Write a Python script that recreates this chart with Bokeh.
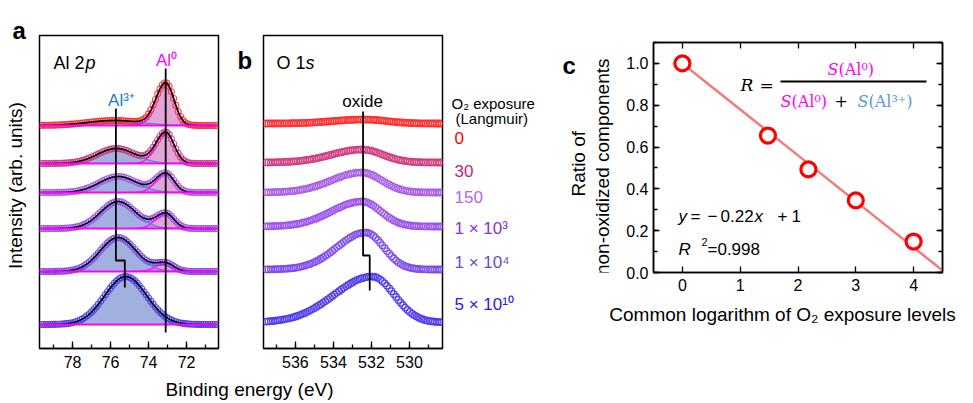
import numpy as np
from bokeh.plotting import figure
from bokeh.models import (Range1d, Label, SingleIntervalTicker, LinearAxis,
                          PrintfTickFormatter)
from bokeh.layouts import row, column
from bokeh.embed import file_html
from bokeh.resources import INLINE

# ---------------- data ----------------
exposure_labels = ["0", "30", "150", "1 × 10³", "1 × 10⁴", "5 × 10¹⁰"]
label_colors = ["#ff0000", "#d2206e", "#b466f2", "#8a2ed8", "#5a50dc", "#2222f0"]
data_colors = ["#ff2a2a", "#cf3a7d", "#a85ce6", "#9a50ee", "#7a48ee", "#4a36ee"]

# panel a: Al 2p fit components (arb. units, stacked)
al_offset = [223, 185, 156, 120, 77, 24]
al0_height = [42, 31, 19, 15, 8, 0]
al0_center = 73.1
al0_sigma_lo = 0.44
al0_sigma_hi = 0.52
al3_height = [5, 15, 16, 27, 34, 48]
al3_center = [75.8, 75.7, 75.6, 75.6, 75.6, 75.2]
al3_sigma = [1.4, 1.0, 1.0, 0.92, 0.95, 1.1]
al0_marker_be = [73.1, 73.1]
al0_marker_y = [280, 16]
al3_marker_be = [75.72, 75.72, 75.25, 75.25]
al3_marker_y = [240, 88, 88, 61]

# panel b: O 1s spectra
o_offset = [225, 186, 156, 122, 79, 26]
o_height = [4, 13, 20, 25, 37, 46]
o_center = [532.4, 532.5, 532.5, 532.5, 532.3, 531.95]
o_sigma_hi = [1.6, 1.6, 1.6, 1.6, 1.5, 2.0]
o_sigma_lo = [1.2, 1.1, 1.05, 1.0, 0.95, 1.15]
oxide_marker_be = [532.44, 532.44, 532.09, 532.09]
oxide_marker_y = [237, 93, 93, 58]

# panel c
log_exposure = [0.0, 1.48, 2.18, 3.0, 4.0]
ratio = [1.0, 0.655, 0.493, 0.345, 0.148]
fit_slope = -0.22
fit_intercept = 1.0
fit_x = [0.0, 4.55]

SANS = "Liberation Sans"
SERIF = "DejaVu Serif"


def asym_peak(x, c, h, s_lo, s_hi):
    s = np.where(x > c, s_hi, s_lo)
    return h * np.exp(-0.5 * ((x - c) / s) ** 2)


def lab(p, x, y, text, size, color="black", font=SANS, style="normal",
        align="left", baseline="alphabetic", angle=0.0):
    p.add_layout(Label(x=x, y=y, text=text, text_font=font,
                       text_font_size=f"{size}px", text_color=color,
                       text_font_style=style, text_align=align,
                       text_baseline=baseline, angle=angle))


def style_axis(ax, major=7, minor=4, size=16, standoff=7):
    ax.major_tick_in = major
    ax.major_tick_out = 0
    ax.minor_tick_in = minor
    ax.minor_tick_out = 0
    ax.axis_line_width = 1.5
    ax.major_tick_line_width = 1.3
    ax.minor_tick_line_width = 1.3
    ax.major_label_text_font = SANS
    ax.major_label_text_font_size = f"{size}px"
    ax.major_label_text_color = "black"
    ax.major_label_standoff = standoff


class Strip:
    """Text-only figure whose frame fills its canvas; placed at (left, top)."""

    def __init__(self, left, top, w, h):
        self.left, self.top, self.h = left, top, h
        self.p = figure(width=w, height=h, x_range=Range1d(0, w),
                        y_range=Range1d(0, h), output_backend="svg",
                        toolbar_location=None, title=None,
                        x_axis_type=None, y_axis_type=None, min_border=0)
        self.p.outline_line_color = None

    def text(self, px, py, text, size, **kw):
        lab(self.p, px - self.left, self.h - (py - self.top), text, size, **kw)


# ---------------- panel a ----------------
A_X0, A_X1 = 79.74, 70.32
pa = figure(width=193, height=375, x_range=Range1d(A_X0, A_X1),
            y_range=Range1d(0, 313), output_backend="svg",
            toolbar_location=None, title=None,
            min_border_left=8, min_border_right=6,
            min_border_top=35, min_border_bottom=27)
pa.yaxis.visible = False
pa.grid.visible = False
pa.outline_line_color = "black"
pa.outline_line_width = 1.5
pa.xaxis.ticker = SingleIntervalTicker(interval=2, num_minor_ticks=2)
style_axis(pa.xaxis[0])


def ax_(px):
    return A_X0 - (px - 39) / 19.0


def ay_(py):
    return 348 - py


xa = np.linspace(A_X1, A_X0, 500)
xa_pts = np.arange(70.40, 79.70, 0.12)
for i in range(6):
    off = al_offset[i]
    c3 = asym_peak(xa, al3_center[i], al3_height[i], al3_sigma[i], al3_sigma[i])
    c0 = asym_peak(xa, al0_center, al0_height[i], al0_sigma_lo, al0_sigma_hi)
    pa.varea(x=xa, y1=off, y2=off + c3, fill_color="#8395d6", fill_alpha=0.75)
    if al0_height[i] > 0:
        pa.varea(x=xa, y1=off, y2=off + c0, fill_color="#d57fc6", fill_alpha=0.7)
    p3 = asym_peak(xa_pts, al3_center[i], al3_height[i], al3_sigma[i], al3_sigma[i])
    p0 = asym_peak(xa_pts, al0_center, al0_height[i], al0_sigma_lo, al0_sigma_hi)
    pa.scatter(xa_pts, off + p3 + p0, marker="circle", size=6, fill_color=None,
               line_color=data_colors[i], line_width=1.1, line_alpha=0.85)
    pa.line(xa, off + c3, line_color="#3a8ee0", line_width=1.2)
    if al0_height[i] > 0:
        pa.line(xa, off + c0, line_color="#ff00ff", line_width=1.2)
    pa.line(xa, off + c3 + c0, line_color="black", line_width=1.6)
    pa.line([A_X1, A_X0], [off, off], line_color="#ff00ff", line_width=2.2)

pa.line(al0_marker_be, al0_marker_y, line_color="black", line_width=1.8)
pa.line(al3_marker_be, al3_marker_y, line_color="black", line_width=1.8)

lab(pa, ax_(53), ay_(62), "Al 2", 18)
lab(pa, ax_(85), ay_(62), "p", 18, style="italic")
lab(pa, ax_(166), ay_(60), "Al⁰", 17, color="#ff00ff", align="center")
lab(pa, ax_(121), ay_(100), "Al³⁺", 17, color="#1f78c8", align="center")

# ---------------- panel b ----------------
B_X0, B_X1 = 537.68, 528.26
pb = figure(width=182, height=375, x_range=Range1d(B_X0, B_X1),
            y_range=Range1d(0, 313), output_backend="svg",
            toolbar_location=None, title=None,
            min_border_left=1, min_border_right=2,
            min_border_top=35, min_border_bottom=27)
pb.yaxis.visible = False
pb.grid.visible = False
pb.outline_line_color = "black"
pb.outline_line_width = 1.5
pb.xaxis.ticker = SingleIntervalTicker(interval=2, num_minor_ticks=2)
style_axis(pb.xaxis[0])


def bx_(px):
    return B_X0 - (px - 263) / 19.0


xb_pts = np.arange(528.30, 537.65, 0.12)
for i in range(6):
    yb = o_offset[i] + asym_peak(xb_pts, o_center[i], o_height[i],
                                 o_sigma_lo[i], o_sigma_hi[i])
    pb.scatter(xb_pts, yb, marker="circle", size=6.5, fill_color=None,
               line_color=data_colors[i], line_width=1.3, line_alpha=0.9)

pb.line(oxide_marker_be, oxide_marker_y, line_color="black", line_width=1.8)

lab(pb, bx_(276), ay_(62), "O 1", 18)
lab(pb, bx_(305), ay_(62), "s", 18, style="italic")
lab(pb, bx_(362), ay_(101), "oxide", 17, align="center")

# ---------------- text strips around a and b ----------------
s_left = Strip(0, 0, 31, 403)
s_left.text(12, 30, "a", 24, style="bold")
s_left.text(15, 185, "Intensity (arb. units)", 19, align="center",
            baseline="middle", angle=np.pi / 2)

s_mid = Strip(224, 0, 38, 375)
s_mid.text(237, 30, "b", 24, style="bold")

s_leg = Strip(444, 0, 101, 375)
s_leg.text(451, 81, "O₂ exposure", 15)
s_leg.text(455, 100, "(Langmuir)", 15)
label_y = [123, 162, 194, 231, 272, 322]
for i in range(6):
    s_leg.text(454, label_y[i], exposure_labels[i], 17, color=label_colors[i],
               baseline="middle")

s_bot = Strip(31, 375, 514, 28)
s_bot.text(249, 389, "Binding energy (eV)", 19, align="center", baseline="middle")

# ---------------- panel c ----------------
pc = figure(width=358, height=298, x_range=Range1d(-0.5, 4.5),
            y_range=Range1d(0, 1.1), output_backend="svg",
            toolbar_location=None, title=None,
            min_border_left=38, min_border_right=31,
            min_border_top=42, min_border_bottom=26)
pc.grid.visible = False
pc.outline_line_color = "black"
pc.outline_line_width = 1.5
pc.xaxis.ticker = SingleIntervalTicker(interval=1, num_minor_ticks=0)
pc.yaxis.ticker = SingleIntervalTicker(interval=0.2, num_minor_ticks=2)
pc.yaxis.formatter = PrintfTickFormatter(format="%.1f")
style_axis(pc.xaxis[0], major=6, minor=4, size=16, standoff=6)
style_axis(pc.yaxis[0], major=6, minor=4, size=16, standoff=5)
for loc, tk in (("right", SingleIntervalTicker(interval=0.2, num_minor_ticks=2)),
                ("above", SingleIntervalTicker(interval=1, num_minor_ticks=0))):
    axm = LinearAxis(ticker=tk)
    style_axis(axm, major=6, minor=4, size=9, standoff=0)
    axm.major_label_text_color = None
    pc.add_layout(axm, loc)

fit_y = [fit_slope * x + fit_intercept for x in fit_x]
pc.line(fit_x, fit_y, line_color="#f37b7b", line_width=2.5)
pc.scatter(log_exposure, ratio, marker="circle", size=15, fill_color="white",
           line_color="#ff0000", line_width=3.2)


def cx_(px):
    return -0.5 + (px - 653) / 57.8


def cy_(py):
    return (272 - py) / 209.09


# fit equation
lab(pc, cx_(678), cy_(216), "y", 17, style="italic")
lab(pc, cx_(690), cy_(216), "=", 17)
lab(pc, cx_(707), cy_(216), "−", 17)
lab(pc, cx_(720), cy_(216), "0.22", 17)
lab(pc, cx_(754), cy_(216), "x", 17, style="italic")
lab(pc, cx_(777), cy_(216), "+", 17)
lab(pc, cx_(791), cy_(216), "1", 17)
lab(pc, cx_(678), cy_(249), "R", 17, style="italic")
lab(pc, cx_(701), cy_(242), "2", 11)
lab(pc, cx_(707), cy_(249), "=0.998", 17)

# ratio definition
MAG = "#ff00ff"
LBLUE = "#5b9bd5"
lab(pc, cx_(740), cy_(85), "R", 17, font=SERIF, style="italic")
lab(pc, cx_(759), cy_(85), "=", 17, font=SERIF)
pc.line([cx_(780), cx_(926)], [cy_(81), cy_(81)], line_color="black", line_width=1.8)
lab(pc, cx_(827), cy_(69), "S", 16, color=MAG, font=SERIF, style="italic")
lab(pc, cx_(838), cy_(69), "(Al⁰)", 16, color=MAG, font=SERIF)
lab(pc, cx_(780), cy_(101), "S", 16, color=MAG, font=SERIF, style="italic")
lab(pc, cx_(791), cy_(101), "(Al⁰)", 16, color=MAG, font=SERIF)
lab(pc, cx_(834), cy_(101), "+", 16, font=SERIF)
lab(pc, cx_(857), cy_(101), "S", 16, color=LBLUE, font=SERIF, style="italic")
lab(pc, cx_(868), cy_(101), "(Al³⁺)", 16, color=LBLUE, font=SERIF)

s_cleft = Strip(545, 0, 70, 298)
s_cleft.text(562, 30, "c", 24, style="bold")
s_cleft.text(578, 157, "Ratio of", 19, align="center", baseline="middle",
             angle=np.pi / 2)
s_cleft.text(602, 161, "non-oxidized components", 19, align="center",
             baseline="middle", angle=np.pi / 2)

s_cbot = Strip(545, 298, 428, 105)
s_cbot.text(782, 314, "Common logarithm of O₂ exposure levels", 19, align="center")

layout = row(
    s_left.p,
    column(row(pa, s_mid.p, pb, s_leg.p), s_bot.p),
    column(row(s_cleft.p, pc), s_cbot.p),
)
open("out.html", "w").write(file_html(layout, INLINE))
